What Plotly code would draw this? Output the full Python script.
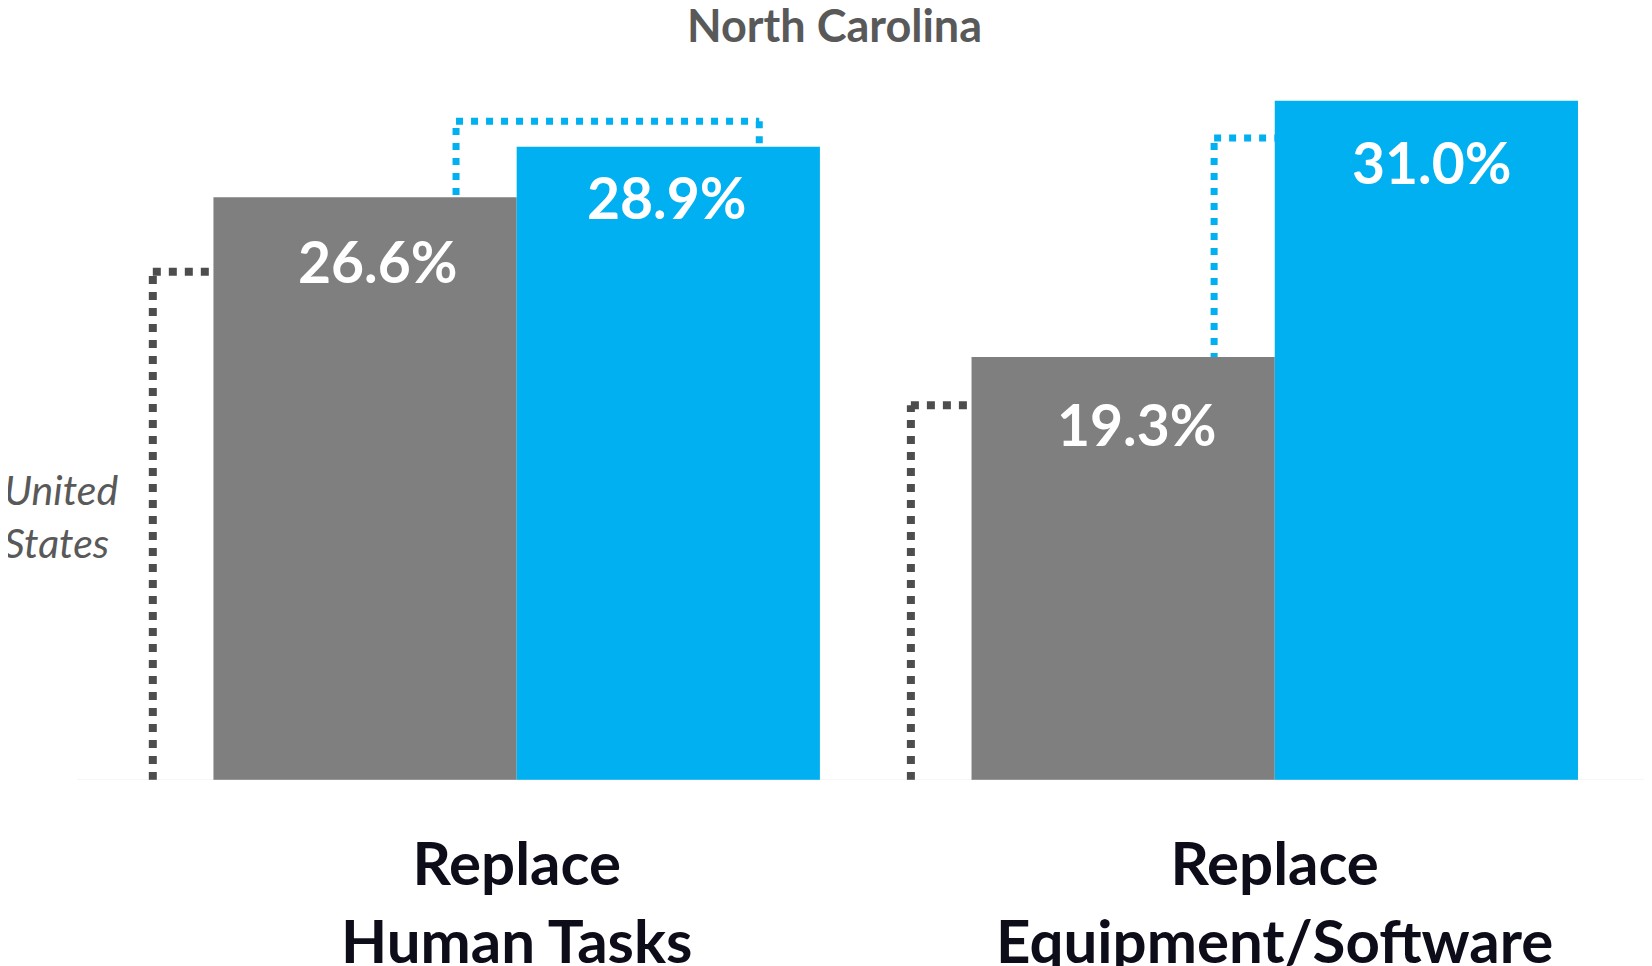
import plotly.graph_objects as go

categories = ["Replace<br>Human Tasks", "Replace<br>Equipment/Software"]
us_values = [26.6, 19.3]
nc_values = [28.9, 31.0]
us_name = "United States"
nc_name = "North Carolina"

GRAY = "#7f7f7f"
BLUE = "#00b0f0"
DOT_GRAY = "#4d4d4d"
FONT = "Lato"

# label placement offsets (pixels) – styling only
us_lab_shift = [(12, -64), (13, -67)]
nc_lab_shift = [(-2, -50), (5, -61)]

fig = go.Figure()
xs = list(range(len(categories)))
fig.add_trace(go.Bar(x=xs, y=us_values, name=us_name, marker_color=GRAY,
                     width=0.4, offset=-0.4, marker_line_width=0, hoverinfo="skip"))
fig.add_trace(go.Bar(x=xs, y=nc_values, name=nc_name, marker_color=BLUE,
                     width=0.4, offset=0.0, marker_line_width=0, hoverinfo="skip"))

# value labels
for i in xs:
    fig.add_annotation(x=i - 0.2, y=us_values[i], xshift=us_lab_shift[i][0], yshift=us_lab_shift[i][1],
                       text=f"<b>{us_values[i]:.1f}%</b>",
                       showarrow=False, font=dict(family=FONT, size=57, color="white"))
    fig.add_annotation(x=i + 0.2, y=nc_values[i], xshift=nc_lab_shift[i][0], yshift=nc_lab_shift[i][1],
                       text=f"<b>{nc_values[i]:.1f}%</b>",
                       showarrow=False, font=dict(family=FONT, size=57, color="white"))
    fig.add_annotation(x=i, y=0, yshift=-44, yanchor="top", text=f"<b>{categories[i]}</b>",
                       showarrow=False, font=dict(family=FONT, size=60, color="#0d0d1a"))

# leader brackets (decorative)
us_tops = [23.2, 17.1]
nc_tops = [30.06, 29.3]
shapes = []
def seg(x0, y0, x1, y1, color, width, dash, layer="below"):
    shapes.append(dict(type="line", xref="x", yref="y", x0=x0, y0=y0, x1=x1, y1=y1,
                       line=dict(color=color, width=width, dash=dash), layer=layer))

for i in xs:
    seg(i - 0.48, 0, i - 0.48, us_tops[i], DOT_GRAY, 8, "8px,8px")
    seg(i - 0.48, us_tops[i], i - 0.405, us_tops[i], DOT_GRAY, 8, "8px,8px")
    seg(i - 0.08, 0, i - 0.08, nc_tops[i], BLUE, 7, "7px,8px")
    seg(i - 0.08, nc_tops[i], i + (0.32 if i == 0 else 0.0), nc_tops[i], BLUE, 7, "7px,8px")
    if i == 0:
        seg(0.32, nc_tops[i], 0.32, nc_values[i], BLUE, 7, "7px,8px")

# baseline (light axis line)
shapes.append(dict(type="line", xref="paper", yref="y", x0=0, x1=1, y0=-0.06, y1=-0.06,
                   line=dict(color="#d6daf0", width=3), layer="above"))
for i in xs:
    seg(i - 0.48, -0.15, i - 0.087, -0.15, DOT_GRAY, 2, "8px,8px", "above")
    seg(i - 0.087, -0.15, i + 0.32, -0.15, BLUE, 2, "8px,8px", "above")
fig.update_layout(shapes=shapes)

fig.add_annotation(xref="paper", yref="paper", x=(834 - 77) / 1573, y=1 + 10 / 745,
                   xanchor="center", yanchor="middle",
                   text=f"<b>{nc_name}</b>", showarrow=False,
                   font=dict(family=FONT, size=45, color="#595959"))
fig.add_annotation(xref="paper", yref="paper", x=-75 / 1573, xanchor="left",
                   y=(780 - 516) / 745, yanchor="middle", text="<i>United<br>States</i>",
                   showarrow=False, align="left",
                   font=dict(family=FONT, size=41, color="#595959"))

fig.update_layout(
    width=1644, height=958,
    margin=dict(l=69, r=2, t=27, b=186),
    plot_bgcolor="white", paper_bgcolor="white",
    showlegend=False, barmode="overlay",
    xaxis=dict(range=[-0.58, 1.495], showticklabels=False, showgrid=False, zeroline=False,
               showline=False, ticks=""),
    yaxis=dict(range=[0, 34], visible=False, showgrid=False, zeroline=False),
)
fig.write_html("out.html")
